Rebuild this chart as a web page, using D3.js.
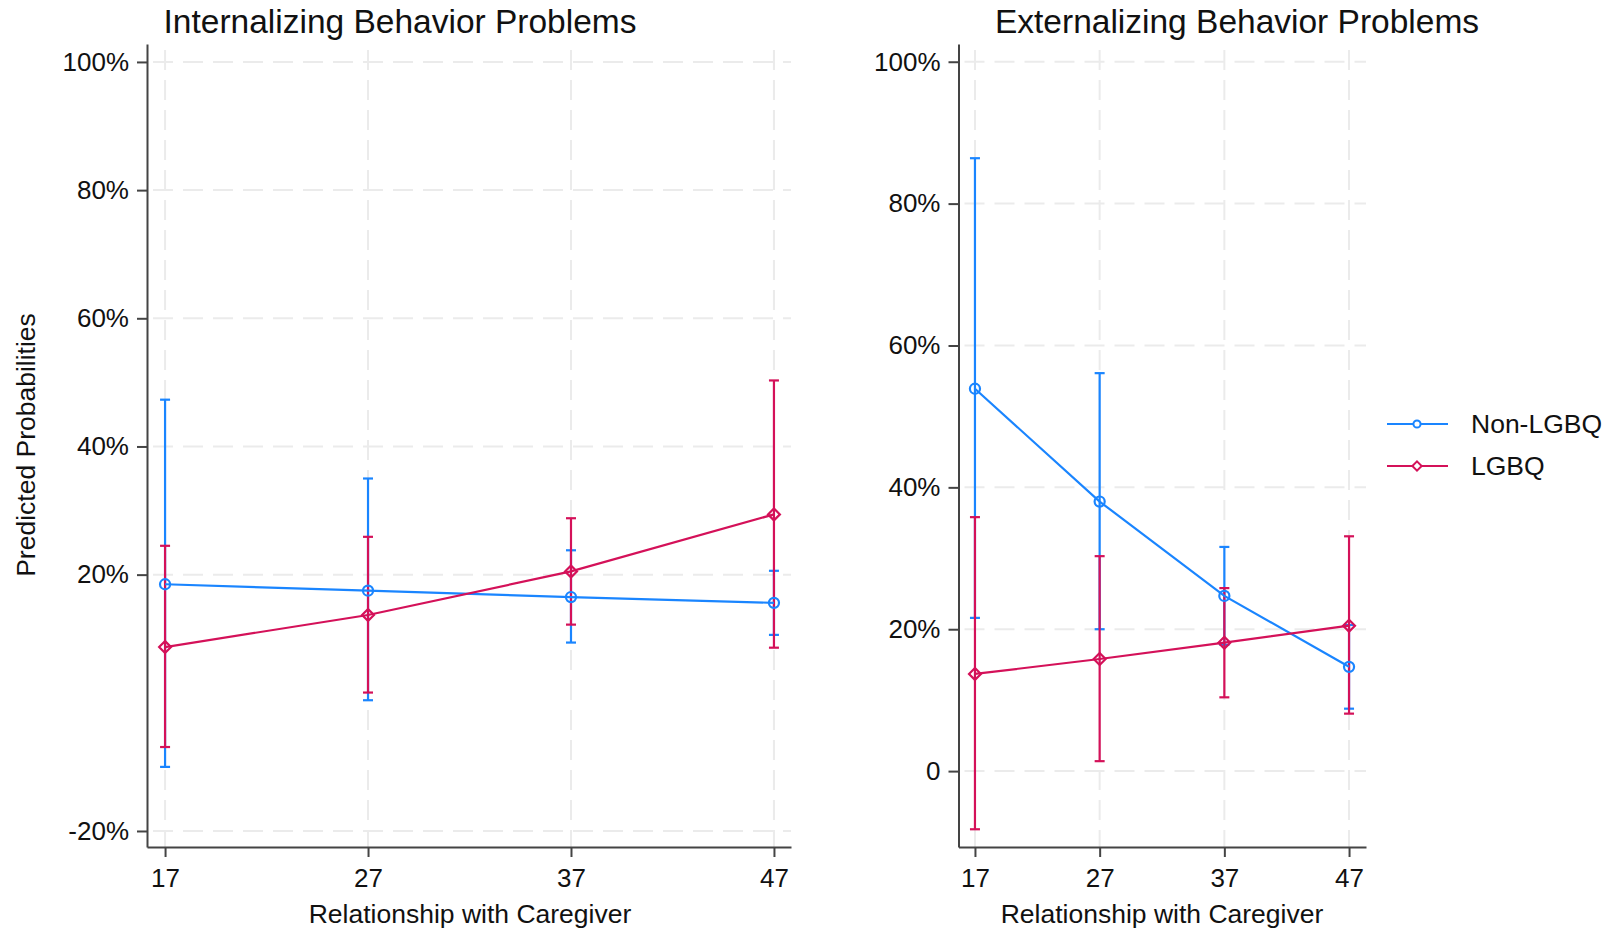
<!DOCTYPE html>
<html>
<head>
<meta charset="utf-8">
<script src="https://cdn.jsdelivr.net/npm/d3@7"></script>
<style>
  html, body { margin: 0; padding: 0; background: #fff; }
  text { font-family: "Liberation Sans", Arial, sans-serif; fill: #111; }
</style>
</head>
<body>
<div id="chart"></div>
<script>
// relationship score on the x axis
const ages = [17, 27, 37, 47];

// Internalizing panel (percent)
const intNonEst = [18.5, 17.5, 16.5, 15.6];
const intNonLo  = [-10.0, 0.4, 9.4, 10.6];
const intNonHi  = [47.3, 35.0, 23.8, 20.6];
const intLgbEst = [8.7, 13.7, 20.5, 29.4];
const intLgbLo  = [-6.9, 1.6, 12.2, 8.6];
const intLgbHi  = [24.5, 25.9, 28.8, 50.3];

// Externalizing panel (percent)
const extNonEst = [53.9, 38.0, 24.7, 14.7];
const extNonLo  = [21.6, 20.0, 17.8, 8.8];
const extNonHi  = [86.4, 56.1, 31.6, 20.6];
const extLgbEst = [13.7, 15.8, 18.1, 20.5];
const extLgbLo  = [-8.2, 1.4, 10.4, 8.1];
const extLgbHi  = [35.8, 30.3, 25.8, 33.1];

const intYTicks = [100, 80, 60, 40, 20, -20];
const extYTicks = [100, 80, 60, 40, 20, 0];

const groups = ["Non-LGBQ", "LGBQ"];
const colours = ["#1a85ff", "#d41159"];

const W = 1614, H = 934;
const svg = d3.select("#chart").append("svg")
  .attr("width", W).attr("height", H);

const fmt = v => v === 0 ? "0" : v + "%";

function series(est, lo, hi) {
  return ages.map((a, i) => ({ x: a, y: est[i], lo: lo[i], hi: hi[i] }));
}

function drawPanel(opt) {
  const g = svg.append("g");
  const x = d3.scaleLinear().domain(opt.xDomain).range([opt.left, opt.right]);
  const y = d3.scaleLinear().domain(opt.yDomain).range([opt.bottom, opt.top]);

  // grid
  g.append("g").selectAll("line").data(opt.yTicks).join("line")
    .attr("x1", opt.left).attr("x2", opt.right)
    .attr("y1", d => y(d)).attr("y2", d => y(d))
    .attr("stroke", "#ebebeb").attr("stroke-width", 2)
    .attr("stroke-dasharray", "20,10").attr("stroke-dashoffset", -6);
  g.append("g").selectAll("line").data(ages).join("line")
    .attr("x1", d => x(d)).attr("x2", d => x(d))
    .attr("y1", opt.top).attr("y2", opt.bottom)
    .attr("stroke", "#ebebeb").attr("stroke-width", 2)
    .attr("stroke-dasharray", "20,10").attr("stroke-dashoffset", -6);

  // axes
  const yAxis = g.append("g").attr("transform", `translate(${opt.left},0)`)
    .call(d3.axisLeft(y).tickValues(opt.yTicks).tickFormat(fmt)
      .tickSize(10).tickSizeOuter(0).tickPadding(8));
  const xAxis = g.append("g").attr("transform", `translate(0,${opt.bottom})`)
    .call(d3.axisBottom(x).tickValues(ages).tickFormat(d3.format("d"))
      .tickSize(10).tickSizeOuter(0).tickPadding(12));
  [yAxis, xAxis].forEach(ax => {
    ax.select(".domain").attr("stroke", "#444").attr("stroke-width", 2);
    ax.selectAll(".tick line").attr("stroke", "#444").attr("stroke-width", 2);
    ax.selectAll(".tick text").attr("font-size", 26).attr("fill", "#111")
      .style("font-family", '"Liberation Sans", Arial, sans-serif');
  });

  // confidence intervals first, then connected lines
  opt.data.forEach((s, k) => {
    const c = colours[k];
    const ci = g.append("g").attr("stroke", c).attr("stroke-width", 2.2).attr("fill", "none");
    ci.selectAll("line.v").data(s).join("line").attr("class", "v")
      .attr("x1", d => x(d.x)).attr("x2", d => x(d.x))
      .attr("y1", d => y(d.lo)).attr("y2", d => y(d.hi));
    ci.selectAll("line.hi").data(s).join("line").attr("class", "hi")
      .attr("x1", d => x(d.x) - 5).attr("x2", d => x(d.x) + 5)
      .attr("y1", d => y(d.hi)).attr("y2", d => y(d.hi));
    ci.selectAll("line.lo").data(s).join("line").attr("class", "lo")
      .attr("x1", d => x(d.x) - 5).attr("x2", d => x(d.x) + 5)
      .attr("y1", d => y(d.lo)).attr("y2", d => y(d.lo));
  });
  opt.data.forEach((s, k) => {
    const c = colours[k];
    g.append("path").datum(s)
      .attr("d", d3.line().x(d => x(d.x)).y(d => y(d.y)))
      .attr("fill", "none").attr("stroke", c).attr("stroke-width", 2.2);
    const sym = k === 0 ? d3.symbolCircle : d3.symbolDiamond2;
    const size = k === 0 ? 80 : 90;
    g.selectAll(null).data(s).join("path")
      .attr("transform", d => `translate(${x(d.x)},${y(d.y)})`)
      .attr("d", d3.symbol().type(sym).size(size))
      .attr("fill", "none").attr("stroke", c).attr("stroke-width", 2.2);
  });

  // titles
  g.append("text").attr("x", opt.titleX).attr("y", 33)
    .attr("text-anchor", "middle").attr("font-size", 33.5).text(opt.title);
  g.append("text").attr("x", opt.xTitleX).attr("y", 923)
    .attr("text-anchor", "middle").attr("font-size", 26.5)
    .text("Relationship with Caregiver");
}

drawPanel({
  title: "Internalizing Behavior Problems", titleX: 400,
  xTitleX: 470,
  left: 147, right: 791, top: 44, bottom: 847,
  xDomain: [16.11, 47.84], yDomain: [-22.5, 102.8],
  yTicks: intYTicks,
  data: [series(intNonEst, intNonLo, intNonHi), series(intLgbEst, intLgbLo, intLgbHi)]
});

drawPanel({
  title: "Externalizing Behavior Problems", titleX: 1237,
  xTitleX: 1162,
  left: 958.5, right: 1366, top: 44, bottom: 847,
  xDomain: [15.68, 48.36], yDomain: [-10.7, 102.5],
  yTicks: extYTicks,
  data: [series(extNonEst, extNonLo, extNonHi), series(extLgbEst, extLgbLo, extLgbHi)]
});

// y axis title
svg.append("text")
  .attr("transform", "translate(35,445) rotate(-90)")
  .attr("text-anchor", "middle").attr("font-size", 26.5)
  .text("Predicted Probabilities");

// legend
const legend = svg.append("g").attr("transform", "translate(1387,424)");
groups.forEach((name, k) => {
  const row = legend.append("g").attr("transform", `translate(0,${k * 42})`);
  row.append("line").attr("x1", 0).attr("x2", 61).attr("y1", 0).attr("y2", 0)
    .attr("stroke", colours[k]).attr("stroke-width", 2.2);
  row.append("path").attr("transform", "translate(30,0)")
    .attr("d", d3.symbol().type(k === 0 ? d3.symbolCircle : d3.symbolDiamond2).size(k === 0 ? 40 : 55))
    .attr("fill", "#fff").attr("stroke", colours[k]).attr("stroke-width", 2);
  row.append("text").attr("x", 84).attr("y", 0).attr("dy", "0.35em")
    .attr("font-size", 26.5).text(name);
});
</script>
</body>
</html>
